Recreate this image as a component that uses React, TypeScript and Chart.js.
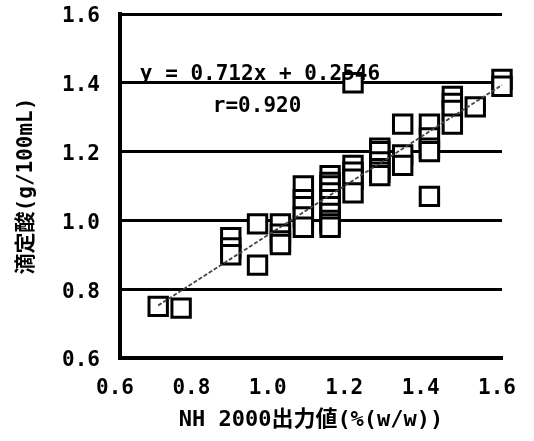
import React, { useEffect, useRef } from "react";
import { Chart, registerables } from "chart.js";
Chart.register(...registerables);

// Measured points (NH 2000 output value, titratable acidity)
const xValues = [
  0.70, 0.76,
  0.89, 0.89, 0.89,
  0.96, 0.96,
  1.02, 1.02, 1.02, 1.02,
  1.08, 1.08, 1.08, 1.08, 1.08,
  1.15, 1.15, 1.15, 1.15, 1.15, 1.15, 1.15, 1.15, 1.15, 1.15,
  1.21, 1.21, 1.21, 1.21, 1.21,
  1.28, 1.28, 1.28, 1.28, 1.28, 1.28,
  1.34, 1.34, 1.34,
  1.41, 1.41, 1.41, 1.41, 1.41,
  1.47, 1.47, 1.47, 1.47,
  1.53,
  1.60, 1.60,
];
const yValues = [
  0.75, 0.745,
  0.95, 0.92, 0.90,
  0.99, 0.87,
  0.99, 0.96, 0.94, 0.93,
  1.10, 1.06, 1.04, 1.01, 0.98,
  1.13, 1.11, 1.10, 1.08, 1.06, 1.04, 1.02, 1.00, 0.99, 0.98,
  1.40, 1.16, 1.14, 1.12, 1.08,
  1.21, 1.20, 1.17, 1.15, 1.14, 1.13,
  1.28, 1.19, 1.16,
  1.28, 1.24, 1.21, 1.20, 1.07,
  1.36, 1.34, 1.32, 1.28,
  1.33,
  1.41, 1.39,
];
const slope = 0.712;
const intercept = 0.2546;
const fitXRange = [0.70, 1.60];
const equationLabel = "y = 0.712x + 0.2546";
const rLabel = "r=0.920";
const xTitle = "NH 2000出力値(%(w/w))";
const yTitle = "滴定酸(g/100mL)";
const axisMin = 0.6;
const axisMax = 1.6;
const axisStep = 0.2;

const FONT = "'DejaVu Sans Mono', 'Noto Sans CJK JP', monospace";

export default function App() {
  const ref = useRef<HTMLCanvasElement | null>(null);
  useEffect(() => {
    if (!ref.current) return;
    const points = xValues.map((x, i) => ({ x, y: yValues[i] }));
    const fit = fitXRange.map((x) => ({ x, y: slope * x + intercept }));
    const textPlugin = {
      id: "eqText",
      afterDatasetsDraw(chart: any) {
        const { ctx, scales } = chart;
        ctx.save();
        ctx.fillStyle = "#000";
        ctx.font = `bold 21px ${FONT}`;
        ctx.textBaseline = "alphabetic";
        ctx.textAlign = "left";
        ctx.fillText(equationLabel, scales.x.getPixelForValue(0.652), scales.y.getPixelForValue(1.408));
        ctx.fillText(rLabel, scales.x.getPixelForValue(0.843), scales.y.getPixelForValue(1.315));
        ctx.restore();
      },
    };
    const chart = new Chart(ref.current, {
      type: "scatter",
      data: {
        datasets: [
          {
            type: "line",
            data: fit,
            borderColor: "#444",
            borderWidth: 1.8,
            borderDash: [4, 2],
            pointRadius: 0,
            fill: false,
            clip: false,
          } as any,
          {
            data: points,
            pointStyle: "rect",
            pointRadius: 13,
            pointBorderWidth: 3,
            pointBorderColor: "#000",
            pointBackgroundColor: "#fff",
            borderColor: "#000",
            backgroundColor: "#fff",
            clip: false,
          } as any,
        ],
      },
      options: {
        responsive: false,
        animation: false,
        layout: { autoPadding: false, padding: { left: 0, top: 14, right: 32, bottom: 0 } },
        plugins: { legend: { display: false }, tooltip: { enabled: false } },
        scales: {
          x: {
            type: "linear",
            min: axisMin,
            max: axisMax,
            afterFit: (s: any) => { s.height = 83; s.paddingLeft = 0; s.paddingRight = 0; },
            ticks: {
              stepSize: axisStep,
              color: "#000",
              padding: 18,
              labelOffset: -5,
              font: { family: FONT, size: 21, weight: "bold" },
              callback: (v: any) => Number(v).toFixed(1),
            },
            grid: { display: false, drawTicks: false },
            border: { display: true, color: "#000", width: 4 },
            title: {
              display: true,
              text: xTitle,
              color: "#000",
              padding: { top: 0, bottom: 8 },
              font: { family: FONT, size: 22, weight: "bold" },
            },
          },
          y: {
            type: "linear",
            min: axisMin,
            max: axisMax,
            afterFit: (s: any) => { s.width = 120; s.paddingTop = 0; s.paddingBottom = 0; },
            ticks: {
              stepSize: axisStep,
              color: "#000",
              padding: 0,
              labelOffset: 3,
              font: { family: FONT, size: 21, weight: "bold" },
              callback: (v: any) => Number(v).toFixed(1),
            },
            grid: {
              display: true,
              color: "#000",
              lineWidth: 3,
              drawTicks: true,
              tickLength: 20,
              tickColor: "rgba(0,0,0,0)",
            },
            border: { display: true, color: "#000", width: 4 },
            title: {
              display: true,
              text: yTitle,
              color: "#000",
              padding: { top: 14, bottom: 0 },
              font: { family: FONT, size: 21, weight: "bold" },
            },
          },
        },
      },
      plugins: [textPlugin],
    });
    return () => chart.destroy();
  }, []);
  return (
    <div style={{ position: "fixed", left: 0, top: 0, width: 534, height: 441, background: "#fff" }}>
      <canvas ref={ref} width={534} height={441} style={{ width: 534, height: 441, display: "block" }} />
    </div>
  );
}
